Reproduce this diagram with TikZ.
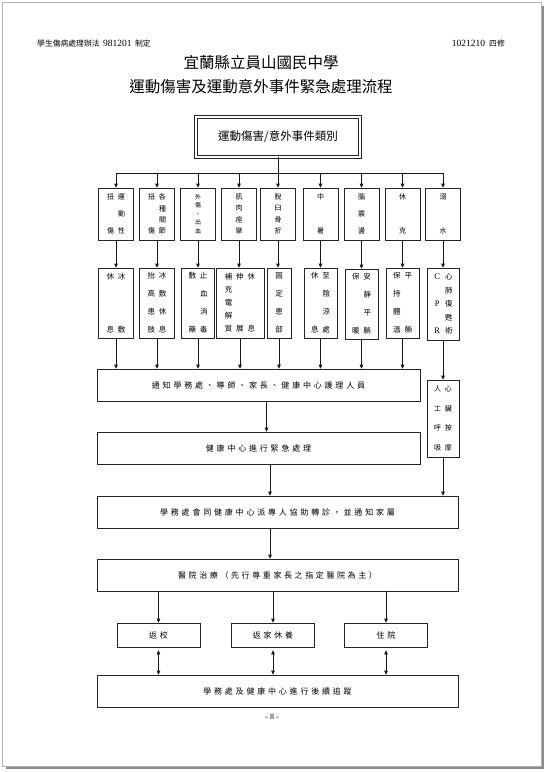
\documentclass[tikz,border=0pt]{standalone}
\usepackage{fontspec}
\setmainfont{Noto Sans CJK TC}
\newfontfamily\lat{Liberation Serif}
\usetikzlibrary{arrows.meta,calc}
\newcommand\emc{\phantom{國}}
\newcommand\cg{\hspace{4pt}}
\newcommand\lsp[2]{\def\lspgap{#1}\lspi#2\relax\hspace{-#1}}
\def\lspi#1{\ifx#1\relax\else#1\hspace{\lspgap}\expandafter\lspi\fi}
\newcommand\LL[1]{\makebox[7.5pt]{\lat\fontsize{8.5}{8.5}\selectfont #1}}
\tikzset{
  box/.style={draw=black!85, line width=0.7pt, inner sep=0pt, align=center},
  ln/.style={line width=0.7pt, draw=black!90},
  arr/.style={ln, -{Triangle[length=4pt,width=3.6pt]}},
  darr/.style={ln, {Triangle[length=4pt,width=3.6pt]}-{Triangle[length=4pt,width=3.6pt]}},
  rowa/.style={box, minimum width=35pt, minimum height=52pt, font=\fontsize{7}{#1}\selectfont},
  rowb/.style={box, minimum height=70pt, font=\fontsize{7.5}{#1}\selectfont},
  wide/.style={box, minimum height=32pt, font=\fontsize{8}{9}\selectfont},
  small/.style={box, minimum width=83pt, minimum height=24pt, font=\fontsize{8}{9}\selectfont}
}
\begin{document}
\begin{tikzpicture}[x=1pt,y=-1pt]
\useasboundingbox (0,0) rectangle (547,772);
% page frame
\draw[black!30, line width=0.8pt] (2.5,2.5) rectangle (541,766);
\draw[black!45, line width=1.4pt] (543,6) -- (543,768) -- (6,768);
% header
\node[anchor=west, inner sep=0pt, font=\fontsize{7.8}{8}\selectfont] (hl) at (37,44) {學生傷病處理辦法\hspace{3.5pt}{\lat\fontsize{9.5}{9}\selectfont 981201}\hspace{3.5pt}制定};
\node[anchor=east, inner sep=0pt, font=\fontsize{7.8}{8}\selectfont] (hr) at (505,44) {{\lat\fontsize{9.5}{9}\selectfont 1021210}\hspace{4pt}四修};
% title
\node[inner sep=0pt, font=\fontsize{15.5}{16}\selectfont] (t1) at (261,63) {宜蘭縣立員山國民中學};
\node[inner sep=0pt, font=\fontsize{15.5}{16}\selectfont] (t2) at (261,87) {運動傷害及運動意外事件緊急處理流程};
% top box
\node[box, minimum width=164pt, minimum height=40pt, double, double distance=2pt, line width=0.8pt, font=\fontsize{11.5}{12}\selectfont] (top) at (278,137) {運動傷害/意外事件類別};
\coordinate (bus) at (278,173);
% row 1
\node[rowa=17pt] (c1) at (116,214) {扭\cg 運\\\emc\cg 動\\傷\cg 性};
\node[rowa=11.3pt] (c2) at (157,214) {扭\cg 各\\\emc\cg 種\\\emc\cg 關\\傷\cg 節};
\node[box, minimum width=35pt, minimum height=52pt, font=\fontsize{6}{8.5}\selectfont] (c3) at (198,214) {外\\傷\\、\\出\\血};
\node[rowa=11.3pt] (c4) at (239,214) {肌\\肉\\痙\\攣};
\node[rowa=11.3pt] (c5) at (278,214) {脫\\臼\\骨\\折};
\node[rowa=34pt] (c6) at (320.5,214) {中\\暑};
\node[rowa=17pt] (c7) at (361.5,214) {腦\\震\\盪};
\node[rowa=34pt] (c8) at (402.5,214) {休\\克};
\node[rowa=34pt] (c9) at (443,214) {溺\\水};
% row 2
\node[rowb=53pt, minimum width=35pt] (r1) at (116,303) {休\cg 冰\\息\cg 敷};
\node[rowb=18pt, minimum width=35pt] (r2) at (157,303) {抬\cg 冰\\高\cg 敷\\患\cg 休\\肢\cg 息};
\node[rowb=18pt, minimum width=33pt] (r3) at (198,303) {敷\cg 止\\\emc\cg 血\\\emc\cg 消\\藥\cg 毒};
\node[rowb=13pt, minimum width=48pt] (r4) at (240,303) {補\cg 伸\cg 休\\充\cg\emc\cg\emc\\電\cg\emc\cg\emc\\解\cg\emc\cg\emc\\質\cg 展\cg 息};
\node[rowb=18pt, minimum width=24pt] (r5) at (279,303) {固\\定\\患\\部};
\node[rowb=18pt, minimum width=33pt] (r6) at (320.5,303) {休\cg 至\\\emc\cg 陰\\\emc\cg 涼\\息\cg 處};
\node[rowb=18pt, minimum width=33pt] (r7) at (361.5,304) {保\cg 安\\\emc\cg 靜\\\emc\cg 平\\暖\cg 躺};
\node[rowb=18pt, minimum width=33pt] (r8) at (402.5,303) {保\cg 平\\持\cg\emc\\體\cg\emc\\溫\cg 躺};
\node[rowb=13.5pt, minimum width=32pt, minimum height=72pt] (r9) at (443,304) {\LL{C}\cg 心\\\emc\cg 肺\\\LL{P}\cg 復\\\emc\cg 甦\\\LL{R}\cg 術};
% flow boxes
\node[wide, minimum width=323pt] (nt) at (258.5,385) {\lsp{2.8pt}{通知學務處、導師、家長、健康中心護理人員}};
\node[box, minimum width=32pt, minimum height=77pt, font=\fontsize{7}{19.5}\selectfont] (rb) at (443,418.5) {人\cg 心\\工\cg 臟\\呼\cg 按\\吸\cg 摩};
\node[wide, minimum width=323pt] (em) at (258.5,448) {\lsp{2.8pt}{健康中心進行緊急處理}};
\node[wide, minimum width=361pt] (rf) at (277.5,512) {\lsp{2.8pt}{學務處會同健康中心派專人協助轉診，並通知家屬}};
\node[wide, minimum width=361pt] (hp) at (277.5,575) {\lsp{2.6pt}{醫院治療（先行尊重家長之指定醫院為主）}};
\node[small] (b1) at (158.5,635) {\lsp{2.8pt}{返校}};
\node[small] (b2) at (273,635) {\lsp{2.8pt}{返家休養}};
\node[small] (b3) at (386,635) {\lsp{2.8pt}{住院}};
\node[wide, minimum width=361pt] (fu) at (277.5,691) {\lsp{2.8pt}{學務處及健康中心進行後續追蹤}};
\node[inner sep=0pt, font=\lat\fontsize{8}{9}\selectfont] (pn) at (272,717) {- 8 -};
% connectors
\draw[ln] (top.south) -- (top.south |- bus);
\draw[ln] (c1.north |- bus) -- (c9.north |- bus);
\foreach \i in {1,...,9} {
  \draw[arr] (c\i.north |- bus) -- (c\i.north);
  \draw[arr] (c\i.south) -- (c\i.south |- r\i.north);
}
\foreach \i in {1,...,8} {
  \draw[arr] (r\i.south) -- (r\i.south |- nt.north);
}
\draw[arr] (r9.south) -- (r9.south |- rb.north);
\draw[arr] ([xshift=8pt]nt.south) -- ([xshift=8pt]nt.south |- em.north);
\draw[arr] ([xshift=11.5pt]em.south) -- ([xshift=11.5pt]em.south |- rf.north);
\draw[arr] (rb.south) -- (rb.south |- rf.north);
\draw[arr] ([xshift=-7.5pt]rf.south) -- ([xshift=-7.5pt]rf.south |- hp.north);
\foreach \i in {1,2,3} {
  \draw[arr] (b\i.north |- hp.south) -- (b\i.north);
  \draw[darr, shorten <=3pt] (b\i.south) -- (b\i.south |- fu.north);
}
\end{tikzpicture}
\end{document}
